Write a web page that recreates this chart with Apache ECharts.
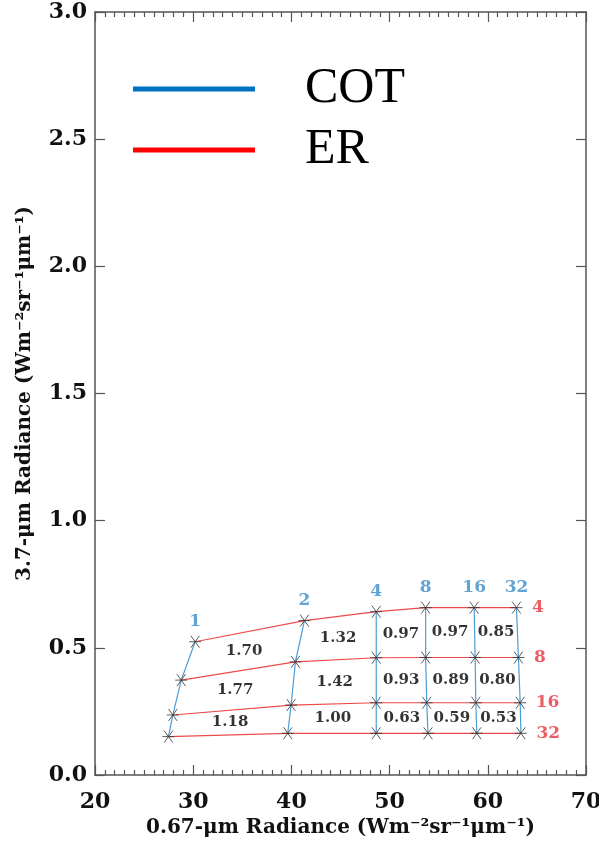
<!DOCTYPE html>
<html><head><meta charset="utf-8">
<script src="https://cdn.jsdelivr.net/npm/echarts@6/dist/echarts.min.js"></script>
<style>html,body{margin:0;padding:0;background:#fff}#c{width:599px;height:842px}</style>
</head><body><div id="c"></div>
<script>
// Cloud optical thickness (COT) and effective radius (ER) grid
const cotValues = [1, 2, 4, 8, 16, 32];
const erValues = [4, 8, 16, 32];
// 0.67-um radiance, one row per ER, columns follow COT
const rad067_er4  = [30.20, 41.33, 48.64, 53.67, 58.61, 62.92];
const rad067_er8  = [28.78, 40.41, 48.64, 53.67, 58.71, 63.12];
const rad067_er16 = [27.93, 39.97, 48.64, 53.78, 58.78, 63.30];
const rad067_er32 = [27.48, 39.63, 48.64, 53.91, 58.88, 63.37];
// 3.7-um radiance, one row per ER
const rad37_er4  = [0.524, 0.607, 0.642, 0.658, 0.658, 0.658];
const rad37_er8  = [0.373, 0.445, 0.461, 0.462, 0.462, 0.462];
const rad37_er16 = [0.236, 0.275, 0.284, 0.284, 0.284, 0.284];
const rad37_er32 = [0.151, 0.164, 0.164, 0.164, 0.164, 0.164];
// values printed inside each grid cell (rows: ER 4-8, 8-16, 16-32)
const cellRow1 = [1.70, 1.32, 0.97, 0.97, 0.85];
const cellRow2 = [1.77, 1.42, 0.93, 0.89, 0.80];
const cellRow3 = [1.18, 1.00, 0.63, 0.59, 0.53];
const xTicks = [20, 30, 40, 50, 60, 70];
const yTicks = [0.0, 0.5, 1.0, 1.5, 2.0, 2.5, 3.0];

const xRows = [rad067_er4, rad067_er8, rad067_er16, rad067_er32];
const yRows = [rad37_er4, rad37_er8, rad37_er16, rad37_er32];
const cellRows = [cellRow1, cellRow2, cellRow3];

const FONT = 'DejaVu Serif';
const BLUE = '#4a9cd6', RED = '#ef4a4a';
const BLUE_T = '#3a8cc8', RED_T = '#e8323c';
const AX = '#555';

const series = [];
// ER lines (red)
erValues.forEach((er, r) => {
  series.push({
    type: 'line', name: 'ER', symbol: 'none', silent: true, z: 2,
    lineStyle: { color: RED, width: 1.2 }, itemStyle: { color: RED },
    data: cotValues.map((c, i) => [xRows[r][i], yRows[r][i]])
  });
});
// COT lines (blue)
cotValues.forEach((c, i) => {
  series.push({
    type: 'line', name: 'COT', symbol: 'none', silent: true, z: 2,
    lineStyle: { color: BLUE, width: 1.2 }, itemStyle: { color: BLUE },
    data: erValues.map((er, r) => [xRows[r][i], yRows[r][i]])
  });
});
// asterisk markers
const markerPts = [];
erValues.forEach((er, r) => cotValues.forEach((c, i) => markerPts.push([xRows[r][i], yRows[r][i]])));
series.push({
  type: 'scatter', silent: true, z: 5,
  symbol: 'path://M-5,0L5,0M-3.6,-4.2L3.6,4.2M-3.6,4.2L3.6,-4.2',
  symbolSize: [12, 12],
  itemStyle: { color: 'transparent', borderColor: '#333', borderWidth: 1 },
  data: markerPts
});
// COT labels above top row
series.push({
  type: 'scatter', silent: true, z: 6, symbolSize: 1,
  itemStyle: { color: 'transparent' },
  label: { show: true, position: 'top', distance: 11, color: BLUE_T,
    fontFamily: FONT, fontWeight: 'bold', fontSize: 17,
    formatter: p => String(cotValues[p.dataIndex]) },
  data: cotValues.map((c, i) => [xRows[0][i], yRows[0][i]])
});
// ER labels to the right
series.push({
  type: 'scatter', silent: true, z: 6, symbolSize: 1,
  itemStyle: { color: 'transparent' },
  label: { show: true, position: 'right', distance: 15, color: RED_T,
    fontFamily: FONT, fontWeight: 'bold', fontSize: 17,
    formatter: p => String(erValues[p.dataIndex]) },
  data: erValues.map((er, r) => [xRows[r][5], yRows[r][5]])
});
// cell values at the centre of each cell
const cellPts = [];
cellRows.forEach((row, r) => row.forEach((v, i) => {
  const cx = (xRows[r][i] + xRows[r][i + 1] + xRows[r + 1][i] + xRows[r + 1][i + 1]) / 4;
  const cy = (yRows[r][i] + yRows[r][i + 1] + yRows[r + 1][i] + yRows[r + 1][i + 1]) / 4;
  cellPts.push({ value: [cx, cy], txt: v.toFixed(2) });
}));
series.push({
  type: 'scatter', silent: true, z: 6, symbolSize: 1,
  itemStyle: { color: 'transparent' },
  label: { show: true, position: 'inside', color: '#000',
    fontFamily: FONT, fontWeight: 'bold', fontSize: 15,
    formatter: p => p.data.txt },
  data: cellPts
});

const axisCommon = {
  axisLine: { show: true, onZero: false, lineStyle: { color: AX, width: 1.5 } },
  axisTick: { show: true, inside: true, length: 10, lineStyle: { color: AX, width: 1.2 } },
  splitLine: { show: false }
};
const titleStyle = { fontFamily: FONT, fontWeight: 'bold', fontSize: 20, color: '#111' };
const tickStyle = { fontFamily: FONT, fontWeight: 'bold', fontSize: 22, color: '#111' };

const chart = echarts.init(document.getElementById('c'), null, { renderer: 'canvas' });
chart.setOption({
  animation: false,
  backgroundColor: '#fff',
  grid: { left: 95, right: 13, top: 12, bottom: 67, containLabel: false, outerBoundsMode: 'none' },
  legend: {
    orient: 'vertical', left: 133, top: 58, padding: 0, itemWidth: 122, itemHeight: 5, itemGap: -1,
    icon: 'rect', selectedMode: false,
    textStyle: { fontFamily: 'Liberation Serif', fontSize: 50, lineHeight: 50, color: '#000', padding: [12, 0, 0, 45] },
    data: [
      { name: 'COT', itemStyle: { color: '#0070c0' }, lineStyle: { color: '#0070c0', width: 5 } },
      { name: 'ER', itemStyle: { color: '#ff0000' }, lineStyle: { color: '#ff0000', width: 5 } }
    ]
  },
  xAxis: [
    Object.assign({}, axisCommon, {
      type: 'value', position: 'bottom', min: xTicks[0], max: xTicks[xTicks.length - 1], interval: 10,
      minorTick: { show: true, splitNumber: 10, length: 5, lineStyle: { color: AX, width: 1.2 } },
      axisLabel: Object.assign({ margin: 16, formatter: v => String(v) }, tickStyle),
      name: '0.67-μm Radiance (Wm⁻²sr⁻¹μm⁻¹)', nameLocation: 'middle', nameGap: 43, nameTextStyle: titleStyle
    }),
    Object.assign({}, axisCommon, {
      type: 'value', position: 'top', min: xTicks[0], max: xTicks[xTicks.length - 1], interval: 10,
      minorTick: { show: true, splitNumber: 10, length: 5, lineStyle: { color: AX, width: 1.2 } },
      axisLabel: { show: false }
    })
  ],
  yAxis: [
    Object.assign({}, axisCommon, {
      type: 'value', position: 'left', min: yTicks[0], max: yTicks[yTicks.length - 1], interval: 0.5,
      axisLabel: Object.assign({ margin: 8, formatter: v => v.toFixed(1) }, tickStyle),
      name: '3.7-μm Radiance (Wm⁻²sr⁻¹μm⁻¹)', nameLocation: 'middle', nameGap: 60, nameTextStyle: titleStyle
    }),
    Object.assign({}, axisCommon, {
      type: 'value', position: 'right', min: yTicks[0], max: yTicks[yTicks.length - 1], interval: 0.5,
      axisLabel: { show: false }
    })
  ],
  series: series
});
</script></body></html>
